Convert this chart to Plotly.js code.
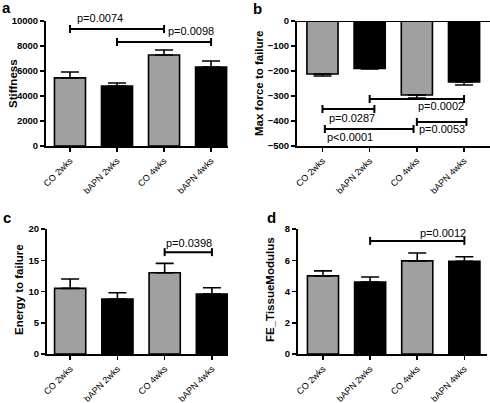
<!DOCTYPE html>
<html>
<head>
<meta charset="utf-8">
<script src="https://cdn.plot.ly/plotly-3.0.1.min.js"></script>
<style>html,body{margin:0;padding:0;background:#fff;}#chart{width:490px;height:403px;}</style>
</head>
<body>
<div id="chart"></div>
<script>
const categories = ["CO 2wks", "bAPN 2wks", "CO 4wks", "bAPN 4wks"];
const barColors = ["#a0a0a0", "#000000", "#a0a0a0", "#000000"];

const stiffness = [5450, 4800, 7280, 6320];
const stiffnessErr = [470, 240, 400, 480];

const maxForce = [-212, -190, -296, -244];
const maxForceErr = [8, 2, 12, 12];

const energy = [10.5, 8.8, 13.0, 9.6];
const energyErr = [1.5, 1.0, 1.5, 1.0];

const modulus = [5.0, 4.6, 5.96, 5.94];
const modulusErr = [0.32, 0.33, 0.5, 0.28];

// significance comparisons: [fromIndex, toIndex, level, label]
const compA = [[0, 2, 9360, "p=0.0074"], [1, 3, 8320, "p=0.0098"]];
const compB = [[1, 3, -312, "p=0.0002"], [0, 1.1, -352, "p=0.0287"], [0.05, 1.93, -432, "p<0.0001"], [2, 3.05, -404, "p=0.0053"]];
const compC = [[2, 3, 16.3, "p=0.0398"]];
const compD = [[1, 3, 7.24, "p=0.0012"]];
// label anchor positions for the p-values [x, y]
const labA = [[0.64, 10240], [2.57, 9200]];
const labB = [[2.52, -342], [0.63, -386], [0.585, -464], [2.54, -432]];
const labC = [[2.51, 17.8]];
const labD = [[2.54, 7.75]];

const panels = [
  {vals: stiffness, err: stiffnessErr, neg: false, xa: "x", ya: "y", comp: compA, lab: labA,
   xdom: [46, 228], ydom: [21, 146], xr: [-0.51, 3.36], yr: [0, 10000], dt: 2000,
   title: "Stiffness", tx: 13, ty: 84, letter: "a", lx: 6, ly: 8},
  {vals: maxForce, err: maxForceErr, neg: true, xa: "x2", ya: "y2", comp: compB, lab: labB,
   xdom: [297, 490], ydom: [21, 146], xr: [-0.54, 3.55], yr: [-500, 0], dt: 100,
   title: "Max force to failure", tx: 259, ty: 84, letter: "b", lx: 257, ly: 9},
  {vals: energy, err: energyErr, neg: false, xa: "x3", ya: "y3", comp: compC, lab: labC,
   xdom: [47, 228], ydom: [229, 354], xr: [-0.49, 3.34], yr: [0, 20], dt: 5,
   title: "Energy to failure", tx: 19, ty: 290, letter: "c", lx: 7, ly: 217},
  {vals: modulus, err: modulusErr, neg: false, xa: "x4", ya: "y4", comp: compD, lab: labD,
   xdom: [298, 487], ydom: [229, 354], xr: [-0.53, 3.48], yr: [0, 8], dt: 2,
   title: "FE_TissueModulus", tx: 270, ty: 290, letter: "d", lx: 271, ly: 217}
];

const W = 490, H = 403;
const FONT = "Liberation Sans, Arial, sans-serif";
const traces = [];
const layout = {
  width: W, height: H, margin: {l: 0, r: 0, t: 0, b: 0},
  paper_bgcolor: "#fff", plot_bgcolor: "rgba(0,0,0,0)",
  showlegend: false, font: {family: FONT, color: "#000"},
  shapes: [], annotations: []
};

panels.forEach((p, i) => {
  const zeros = p.err.map(() => 0);
  traces.push({
    type: "bar", x: categories, y: p.vals, xaxis: p.xa, yaxis: p.ya, width: 0.66,
    marker: {color: barColors, line: {color: "#000", width: 1.6}},
    error_y: p.neg
      ? {type: "data", symmetric: false, array: zeros, arrayminus: p.err, color: "#000", thickness: 1.6, width: 9}
      : {type: "data", symmetric: false, array: p.err, arrayminus: zeros, color: "#000", thickness: 1.6, width: 9},
    hoverinfo: "skip"
  });
  const sfx = i === 0 ? "" : String(i + 1);
  layout["xaxis" + sfx] = {
    domain: [p.xdom[0] / W, p.xdom[1] / W], anchor: p.ya, range: p.xr,
    type: "category", showline: true, linewidth: 2, linecolor: "#000",
    ticks: "outside", ticklen: 4, tickwidth: 1.5, tickcolor: "#000",
    tickangle: -45, tickfont: {size: 9, family: FONT, color: "#000"},
    showgrid: false, zeroline: false, fixedrange: true
  };
  layout["yaxis" + sfx] = {
    domain: [1 - p.ydom[1] / H, 1 - p.ydom[0] / H], anchor: p.xa, range: p.yr,
    dtick: p.dt, tick0: 0, tickformat: "d", showline: true, linewidth: 2, linecolor: "#000",
    ticks: "outside", ticklen: 4, tickwidth: 1.5, tickcolor: "#000",
    tickfont: {size: 9.5, family: FONT, weight: "bold", color: "#000"},
    showgrid: false, zeroline: false, fixedrange: true
  };
  if (p.neg) {
    layout.shapes.push({type: "line", xref: p.xa + " domain", yref: p.ya, x0: 0, x1: 1, y0: 0, y1: 0,
      line: {color: "#000", width: 2}});
  }
  const yfrac = v => (v - p.yr[0]) / (p.yr[1] - p.yr[0]);
  p.comp.forEach((c, k) => {
    const ln = {color: "#000", width: 2};
    layout.shapes.push({type: "line", xref: p.xa, yref: p.ya, x0: c[0], x1: c[1], y0: c[2], y1: c[2], line: ln});
    [c[0], c[1]].forEach(xx => {
      layout.shapes.push({type: "line", xref: p.xa, yref: p.ya, ysizemode: "pixel", yanchor: c[2],
        x0: xx, x1: xx, y0: -4, y1: 4, line: ln});
    });
    layout.annotations.push({xref: p.xa, yref: p.ya + " domain", x: p.lab[k][0], y: yfrac(p.lab[k][1]), text: c[3],
      showarrow: false, font: {size: 11, color: "#000"}, xanchor: "center", yanchor: "middle"});
  });
  layout.annotations.push({xref: "paper", yref: "paper", x: p.tx / W, y: 1 - p.ty / H, text: p.title,
    textangle: -90, showarrow: false, font: {size: 11.5, weight: "bold", color: "#000"}, xanchor: "center", yanchor: "middle"});
  layout.annotations.push({xref: "paper", yref: "paper", x: p.lx / W, y: 1 - p.ly / H, text: p.letter,
    showarrow: false, font: {size: 15, weight: "bold", color: "#000"}, xanchor: "center", yanchor: "middle"});
});

Plotly.newPlot("chart", traces, layout, {staticPlot: true, displayModeBar: false});
</script>
</body>
</html>
